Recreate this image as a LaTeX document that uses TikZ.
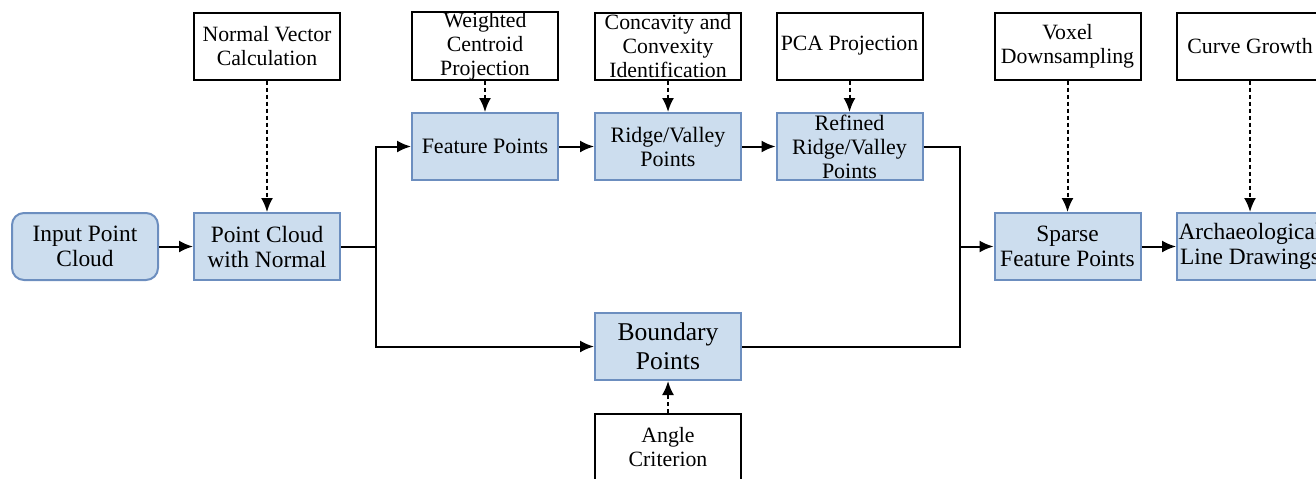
\documentclass[tikz,border=0pt]{standalone}
\usepackage{fontspec}
\setmainfont{Liberation Serif}
\usetikzlibrary{arrows.meta}
\usetikzlibrary{calc}

\definecolor{stagefill}{HTML}{CCDDEE}
\definecolor{stageline}{HTML}{6C8EBF}

\tikzset{
  stage/.style={draw=stageline, fill=stagefill, line width=1pt, minimum width=73pt, minimum height=33.5pt, inner sep=0pt, align=center, font=\fontsize{11.7}{12.5}\selectfont},
  method/.style={draw=black, fill=white, line width=1pt, minimum width=73pt, minimum height=33.5pt, inner sep=0pt, align=center, font=\fontsize{10.9}{12}\selectfont},
  flow/.style={-{Latex[length=7pt,width=6pt]}, line width=1pt},
  hint/.style={flow, dash pattern=on 2pt off 1.5pt}
}

\begin{document}
\begin{tikzpicture}[x=0.5pt, y=-0.5pt]
            \useasboundingbox (0,0) rectangle (1316,478);
            \clip (0,0) rectangle (1316,478);
            % main pipeline
            \node[stage, rounded corners=6pt] (IN) at (85,246.5) {Input Point\\Cloud};
            \node[stage] (PCN) at (267,246.5) {Point Cloud\\with Normal};
            \node[stage, font=\fontsize{11}{12}\selectfont] (FP) at (485,146.5) {Feature Points};
            \node[stage, font=\fontsize{11}{12}\selectfont] (RV) at (668,146.5) {Ridge/Valley\\Points};
            \node[stage, font=\fontsize{11}{12}\selectfont] (RRV) at (849.5,146.5) {Refined\\Ridge/Valley\\Points};
            \node[stage, font=\fontsize{12.8}{14.5}\selectfont] (BP) at (668,346.5) {Boundary\\Points};
            \node[stage] (SFP) at (1067.5,246.5) {Sparse\\Feature Points};
            \node[stage] (ALD) at (1250,246.5) {Archaeological\\Line Drawings};
            % methods
            \node[method] (NVC) at (267,46) {Normal Vector\\Calculation};
            \node[method] (WCP) at (485,46) {Weighted\\Centroid\\Projection};
            \node[method] (CCI) at (668,46) {Concavity and\\Convexity\\Identification};
            \node[method] (PCA) at (849.5,46) {PCA Projection};
            \node[method] (VD) at (1067.5,46) {Voxel\\Downsampling};
            \node[method] (CG) at (1250,46) {Curve Growth};
            \node[method] (AC) at (668,447.5) {Angle\\Criterion};
            % branch points
            \coordinate (J1) at (376,246.5);
            \coordinate (J2) at (960,246.5);
            \draw[flow] (IN) to (PCN);
            \draw[line width=1pt] (PCN) to (J1);
            \draw[flow] (J1) |- (FP);
            \draw[flow] (J1) |- (BP);
            \draw[flow] (FP) to (RV);
            \draw[flow] (RV) to (RRV);
            \draw[line width=1pt] (RRV) -| (J2);
            \draw[line width=1pt] (BP) -| (J2);
            \draw[flow] (J2) to (SFP);
            \draw[flow] (SFP) to (ALD);
            \draw[hint] (NVC) to (PCN);
            \draw[hint] (WCP) to (FP);
            \draw[hint] (CCI) to (RV);
            \draw[hint] (PCA) to (RRV);
            \draw[hint] (VD) to (SFP);
            \draw[hint] (CG) to (ALD);
            \draw[hint] (AC) to (BP);
        \end{tikzpicture}
\end{document}
